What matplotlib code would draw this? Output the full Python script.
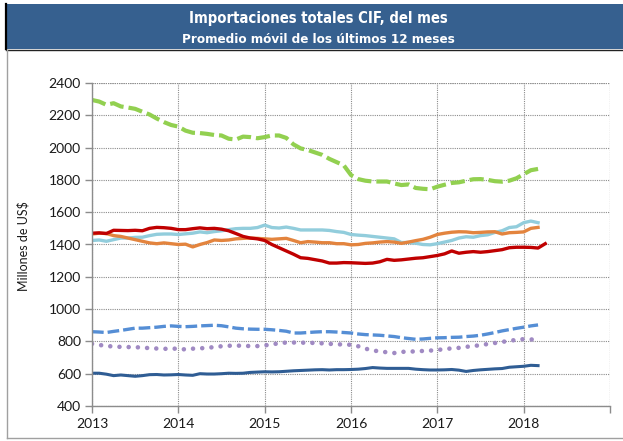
import matplotlib
matplotlib.use("Agg")
import matplotlib.pyplot as plt
from matplotlib import font_manager
from matplotlib.font_manager import FontProperties
import numpy as np
from matplotlib.patches import Rectangle
from matplotlib.lines import Line2D

# Monthly 12-month moving averages, millions of US$, from January 2013
start_year = 2013

green_dashed = [2295, 2285, 2265, 2275, 2255, 2248, 2240, 2222, 2205, 2180, 2158, 2140,
                2130, 2105, 2092, 2090, 2085, 2078, 2075, 2055, 2050, 2068, 2065, 2058,
                2065, 2075, 2075, 2060, 2020, 1995, 1985, 1970, 1955, 1930, 1910, 1890,
                1830, 1805, 1795, 1790, 1790, 1790, 1778, 1768, 1772, 1750, 1745, 1742,
                1758, 1770, 1781, 1785, 1795, 1804, 1805, 1800, 1792, 1789, 1795, 1810,
                1835, 1860, 1868]

red_solid = [1470, 1472, 1468, 1488, 1487, 1486, 1488, 1485, 1500, 1506, 1504, 1500,
             1492, 1492, 1498, 1503, 1498, 1500, 1495, 1485, 1468, 1450, 1440, 1435,
             1425, 1400, 1380, 1360, 1340, 1318, 1314, 1306, 1298, 1285, 1285, 1288,
             1287, 1285, 1283, 1285, 1293, 1308, 1302, 1305, 1310, 1315, 1318, 1325,
             1332, 1342, 1360, 1346, 1352, 1356, 1352, 1356, 1362, 1368, 1380, 1383,
             1383, 1382, 1378, 1405]

light_blue = [1425, 1428, 1420, 1430, 1440, 1440, 1444, 1445, 1455, 1463, 1465, 1465,
              1462, 1466, 1470, 1478, 1473, 1480, 1485, 1492, 1498, 1500, 1500, 1505,
              1520, 1505, 1502, 1508, 1500, 1490, 1490, 1490, 1490, 1487, 1480, 1475,
              1462, 1458, 1455, 1450, 1445, 1440, 1435, 1412, 1413, 1408, 1400, 1398,
              1405, 1415, 1425, 1440, 1448, 1445, 1455, 1460, 1475, 1485, 1505, 1510,
              1535, 1545, 1535]

orange = [1465, 1470, 1468, 1455, 1450, 1440, 1430, 1420, 1410, 1405, 1410, 1405,
          1400, 1402, 1385, 1400, 1412, 1428, 1425, 1428, 1435, 1438, 1440, 1438,
          1435, 1432, 1435, 1438, 1425, 1411, 1418, 1415, 1411, 1411, 1405, 1405,
          1398, 1400, 1407, 1410, 1415, 1418, 1415, 1407, 1415, 1424, 1432, 1445,
          1462, 1470, 1476, 1479, 1478, 1473, 1475, 1478, 1479, 1465, 1473, 1475,
          1478, 1500, 1506]

blue_dashed = [860, 858, 855, 862, 868, 875, 882, 882, 885, 888, 893, 896,
               893, 891, 893, 896, 898, 900, 897, 890, 882, 878, 876, 875,
               875, 872, 868, 863, 852, 852, 855, 858, 860, 860, 858, 855,
               852, 846, 842, 840, 838, 834, 830, 823, 818, 813, 815, 819,
               822, 823, 825, 826, 830, 833, 838, 846, 855, 865, 873, 881,
               888, 896, 902]

purple_dotted = [785, 778, 772, 768, 766, 765, 764, 762, 758, 756, 754, 755,
                 755, 750, 755, 757, 760, 765, 770, 773, 774, 773, 771, 771,
                 775, 782, 788, 793, 793, 792, 792, 790, 788, 785, 782, 781,
                 779, 770, 755, 745, 737, 733, 728, 735, 737, 738, 741, 743,
                 747, 752, 757, 760, 766, 772, 776, 784, 790, 797, 803, 810,
                 814, 812, 812]

navy_solid = [603, 603, 597, 588, 592, 588, 584, 588, 594, 595, 592, 593,
              595, 592, 590, 600, 598, 598, 600, 603, 602, 603, 608, 610,
              612, 611, 612, 615, 618, 620, 622, 624, 625, 623, 625, 625,
              626, 628, 632, 638, 635, 633, 633, 633, 633, 628, 625, 623,
              623, 624, 626, 622, 614, 620, 624, 627, 630, 632, 640, 643,
              646, 652, 650]

year_ticks = [2013, 2014, 2015, 2016, 2017, 2018, 2019]
year_labels = ["2013", "2014", "2015", "2016", "2017", "2018", ""]
value_ticks = [400, 600, 800, 1000, 1200, 1400, 1600, 1800, 2000, 2200, 2400]

title_line1 = "Importaciones totales CIF, del mes"
title_line2 = "Promedio móvil de los últimos 12 meses"
ylabel = "Millones de US$"


def months(series):
    return start_year + np.arange(len(series)) / 12.0


# Header font: a condensed bold face when one is installed
cond = FontProperties(family="DejaVu Sans", weight="bold", stretch="condensed")
cond_path = font_manager.findfont(cond, fallback_to_default=True)
if "Condensed" in cond_path:
    head1 = FontProperties(fname=cond_path, size=10.6)
    head2 = FontProperties(fname=cond_path, size=9.6)
else:
    head1 = FontProperties(family="Liberation Sans", weight="bold", size=10.6)
    head2 = FontProperties(family="Liberation Sans", weight="bold", size=9.6)

W, H = 623, 441
fig = plt.figure(figsize=(W / 100, H / 100), dpi=100)
fig.patch.set_facecolor("white")

# Header banner and outer frame
fig.patches.append(Rectangle((6 / W, 1 - 49 / H), 1 - 6 / W, 45 / H,
                             transform=fig.transFigure, facecolor="#36608F",
                             edgecolor="none", zorder=0))
fig.lines.append(Line2D([6 / W, 6 / W], [1 - 49 / H, 1 - 4 / H],
                        transform=fig.transFigure, color="black", lw=1.6))
fig.lines.append(Line2D([1, 6 / W], [1 - 49.5 / H, 1 - 49.5 / H],
                        transform=fig.transFigure, color="#222222", lw=1.0))
fig.lines.append(Line2D([7 / W, 7 / W], [1 - 438 / H, 1 - 50 / H],
                        transform=fig.transFigure, color="#A0A0A0", lw=1.0))
fig.lines.append(Line2D([7 / W, 1], [1 - 438 / H, 1 - 438 / H],
                        transform=fig.transFigure, color="#A0A0A0", lw=1.0))

fig.text(318 / W, 1 - 18 / H, title_line1, ha="center", va="center",
         color="white", fontproperties=head1)
fig.text(318 / W, 1 - 39.5 / H, title_line2, ha="center", va="center",
         color="white", fontproperties=head2)

ax = fig.add_axes([92 / W, 1 - 406 / H, (610 - 92) / W, (406 - 83) / H])

ax.plot(months(green_dashed), green_dashed, color="#92D050", lw=3.0,
        ls=(0, (3.4, 1.2)), dash_capstyle="butt")
ax.plot(months(light_blue), light_blue, color="#92CDDC", lw=2.4)
ax.plot(months(orange), orange, color="#E3843E", lw=2.4)
ax.plot(months(red_solid), red_solid, color="#C00000", lw=2.4)
ax.plot(months(blue_dashed), blue_dashed, color="#558ED5", lw=2.4,
        ls=(0, (3.5, 1.2)), dash_capstyle="butt")
ax.plot(months(purple_dotted), purple_dotted, color="#A08AC3", lw=3.3,
        ls=(0, (0.01, 2.0)), dash_capstyle="round")
ax.plot(months(navy_solid), navy_solid, color="#2F5D94", lw=2.2)

ax.set_xlim(2013, 2019)
ax.set_ylim(400, 2400)
ax.set_xticks(year_ticks)
ax.set_xticklabels(year_labels)
ax.set_yticks(value_ticks)
ax.set_yticklabels([str(v) for v in value_ticks])

ax.grid(True, color="#8C8C8C", ls=(0, (1, 1)), lw=0.8)
ax.set_axisbelow(True)
for side in ("top", "right"):
    ax.spines[side].set_visible(False)
for side in ("left", "bottom"):
    ax.spines[side].set_color("#8C8C8C")
    ax.spines[side].set_linewidth(1.0)
# dotted borders on the top and right as part of the grid
ax.axhline(2400, color="#8C8C8C", ls=(0, (1, 1)), lw=0.8, zorder=0.5)
ax.axvline(2019, color="#8C8C8C", ls=(0, (1, 1)), lw=0.8, zorder=0.5)

ax.tick_params(axis="both", direction="out", length=5, width=1.0,
               color="#8C8C8C", labelsize=10, labelcolor="#1A1A1A")
ax.tick_params(axis="y", pad=3)
ax.tick_params(axis="x", pad=4)
for lab in ax.get_xticklabels() + ax.get_yticklabels():
    lab.set_family("Lato")

fig.text(23 / W, 1 - 246 / H, ylabel, rotation=90, ha="center", va="center",
         fontsize=9, family="Lato", color="#1A1A1A")

fig.savefig("out.png", dpi=100)
